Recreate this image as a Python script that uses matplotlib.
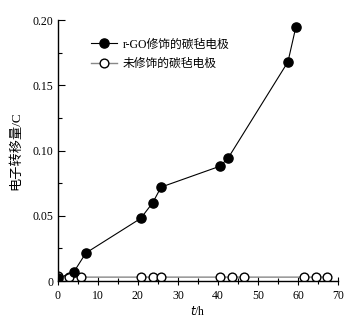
import numpy as np
import matplotlib.pyplot as plt

# r-GO modified carbon felt electrode
t_rgo = [0, 4, 7, 20.7, 23.7, 25.8, 40.5, 42.5, 57.5, 59.5]
q_rgo = [0.002, 0.007, 0.0215, 0.048, 0.060, 0.072, 0.088, 0.094, 0.168, 0.195]

# unmodified carbon felt electrode
t_bare = [0, 2.8, 5.9, 20.7, 23.7, 25.8, 40.5, 43.4, 46.5, 61.6, 64.4, 67.2]
q_bare = [0.0035, 0.003, 0.003, 0.003, 0.003, 0.003, 0.003, 0.003, 0.003, 0.003, 0.003, 0.003]

fam = ['Liberation Serif', 'Noto Sans CJK SC']
plt.rcParams['font.family'] = fam
plt.rcParams['font.size'] = 8.5

fig = plt.figure(figsize=(3.55, 3.19), dpi=100)
ax = fig.add_axes([0.163, 0.119, 0.789, 0.818])

ax.plot(t_rgo, q_rgo, color='black', lw=0.8, marker='o', ms=6.6,
        mfc='black', mec='black', label='r-GO修饰的碳毡电极', zorder=3)
ax.plot(t_bare, q_bare, color='#888888', lw=1.0, marker='o', ms=6.3,
        mfc='white', mec='black', mew=1.0, label='未修饰的碳毡电极', zorder=2)

ax.set_xlim(0, 70)
ax.set_ylim(0, 0.2)
ax.set_xticks(np.arange(0, 71, 10))
ax.set_xticks(np.arange(0, 71, 5), minor=True)
ax.set_yticks([0, 0.05, 0.10, 0.15, 0.20])
ax.set_yticklabels(['0', '0.05', '0.10', '0.15', '0.20'])
ax.set_yticks(np.arange(0, 0.201, 0.025), minor=True)
ax.tick_params(axis='y', direction='in', which='major', length=5, width=0.8)
ax.tick_params(axis='y', direction='in', which='minor', length=3, width=0.8)
ax.tick_params(axis='x', direction='inout', which='major', length=6, width=0.8)
ax.tick_params(axis='x', direction='inout', which='minor', length=4, width=0.8)

for s in ['top', 'right']:
    ax.spines[s].set_visible(False)
for s in ['left', 'bottom']:
    ax.spines[s].set_linewidth(1.0)

ax.set_xlabel('$\\mathit{t}$/h', labelpad=2)
ax.set_ylabel('电子转移量/C', labelpad=7, fontsize=9.5)

ax.legend(loc='upper left', bbox_to_anchor=(0.08, 0.97), frameon=False,
          handlelength=2.2, handletextpad=0.5, labelspacing=0.6, fontsize=8.5)

fig.savefig('out.png', dpi=100)
